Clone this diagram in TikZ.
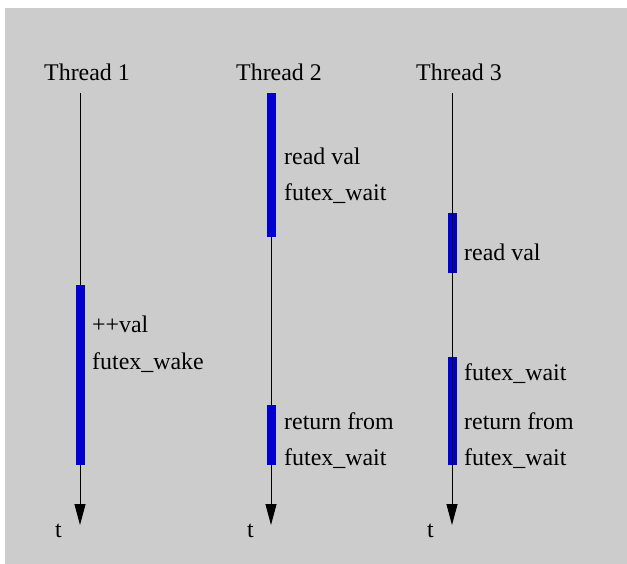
\documentclass[tikz,border=0pt]{standalone}
\usepackage{fontspec}
\setmainfont{Liberation Serif}
\usetikzlibrary{arrows.meta}
\definecolor{bggray}{RGB}{204,204,204}
\definecolor{barblue}{RGB}{0,0,208}

\begin{document}
\begin{tikzpicture}[x=1pt,y=-1pt]
			\tikzstyle{es} = [-{Triangle[length=21pt,width=11pt]}, line width=1pt]
			\tikzstyle{bar} = [fill=barblue, draw=none]
			\tikzstyle{lbl} = [anchor=base west, inner sep=0pt, font=\fontsize{23.9}{28}\selectfont]
			\useasboundingbox (0,0) rectangle (627,564);
			\fill [bggray] (5,8) rectangle (627,564);
			\coordinate (t1top) at (80,93);
			\coordinate (t1end) at (80,525);
			\coordinate (t2top) at (271,93);
			\coordinate (t2end) at (271,525);
			\coordinate (t3top) at (452,93);
			\coordinate (t3end) at (452,525);
			\draw [es] (t1top) -- (t1end);
			\draw [es] (t2top) -- (t2end);
			\fill [bar] (75.5,285) rectangle (84.5,465);
			\fill [bar] (266.5,93) rectangle (275.5,237);
			\fill [bar] (266.5,405) rectangle (275.5,465);
			\fill [bar] (447.5,213) rectangle (456.5,273);
			\fill [bar] (447.5,357) rectangle (456.5,465);
			\draw [es] (t3top) -- (t3end);
			\node [lbl] (h1) at (44,81) {Thread 1};
			\node [lbl] (h2) at (236,81) {Thread 2};
			\node [lbl] (h3) at (416,81) {Thread 3};
			\node [lbl] (a1) at (92,333) {++val};
			\node [lbl] (a2) at (92,369) {futex\_wake};
			\node [lbl] (b1) at (284,165) {read val};
			\node [lbl] (b2) at (284,201) {futex\_wait};
			\node [lbl] (b3) at (284,429) {return from};
			\node [lbl] (b4) at (284,465) {futex\_wait};
			\node [lbl] (c1) at (464,261) {read val};
			\node [lbl] (c2) at (464,381) {futex\_wait};
			\node [lbl] (c3) at (464,429) {return from};
			\node [lbl] (c4) at (464,465) {futex\_wait};
			\node [lbl] (tt1) at (55,537) {t};
			\node [lbl] (tt2) at (247,537) {t};
			\node [lbl] (tt3) at (427,537) {t};
		\end{tikzpicture}
\end{document}
